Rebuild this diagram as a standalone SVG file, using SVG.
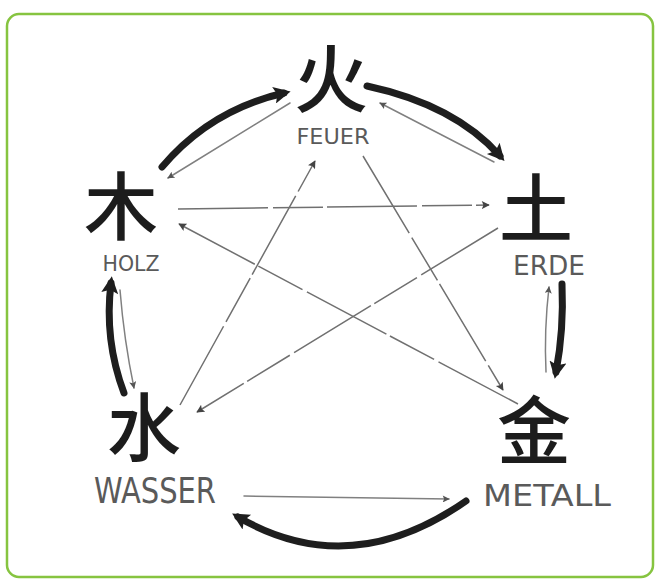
<svg xmlns="http://www.w3.org/2000/svg" width="656" height="580" viewBox="0 0 656 580">
<defs>
<style>
.han{font-family:"Noto Sans CJK SC","Noto Sans CJK JP",sans-serif;font-size:74px;font-weight:500;fill:#1c1c1c;text-anchor:middle}
.lbl{font-family:"Liberation Sans Narrow","DejaVu Sans Condensed","Liberation Sans",sans-serif;fill:#5a5a5a;text-anchor:middle}
.thick{fill:none;stroke:#1e1e1e;stroke-width:7;stroke-linecap:round;marker-end:url(#hb)}
.thin{fill:none;stroke:#808080;stroke-width:1.5;stroke-linecap:round}
.star{fill:none;stroke:#707070;stroke-width:1.5;stroke-dasharray:90 5 50 4;marker-end:url(#hs)}
</style>
<marker id="hb" viewBox="0 0 10 10" refX="6" refY="5" markerWidth="20" markerHeight="17" markerUnits="userSpaceOnUse" orient="auto">
<path d="M0,0 L10,5 L0,10 L2,5 Z" fill="#1e1e1e"/>
</marker>
<marker id="hs" viewBox="0 0 10 10" refX="9" refY="5" markerWidth="11" markerHeight="8" markerUnits="userSpaceOnUse" orient="auto">
<path d="M0,0 L10,5 L0,10 L2,5 Z" fill="#444"/>
</marker>
<marker id="ht" viewBox="0 0 10 10" refX="9" refY="5" markerWidth="10" markerHeight="7" markerUnits="userSpaceOnUse" orient="auto">
<path d="M0,0 L10,5 L0,10 L2,5 Z" fill="#555"/>
</marker>
</defs>
<rect x="0" y="0" width="656" height="580" fill="#fff"/>
<rect x="7" y="14" width="646" height="563" rx="12" ry="12" fill="#fff" stroke="#86c440" stroke-width="2.5"/>

<g id="connectors">
<!-- generating cycle (thick) -->
<path class="thick" d="M162,167 Q210,110 284,93"/>
<path class="thick" d="M367,86 Q455,105 500,156"/>
<path class="thick" d="M562,284 Q564,330 556,372"/>
<path class="thick" d="M466,501 Q350,582 238,517"/>
<path class="thick" d="M124,393 Q104,340 111,283"/>
<!-- reverse thin arrows -->
<path class="thin" d="M290,103 L168,178" marker-end="url(#ht)"/>
<path class="thin" d="M494,162 L380,103" marker-end="url(#ht)"/>
<path class="thin" d="M546,372 Q544,330 549,287" marker-end="url(#ht)"/>
<path class="thin" d="M244,496 L449,499" marker-end="url(#ht)"/>
<path class="thin" d="M120,290 Q124,340 134,388" marker-end="url(#ht)"/>
<!-- controlling star -->
<path class="star" d="M178,209 L489,205"/>
<path class="star" d="M498,228 L197,412"/>
<path class="star" d="M180,405 L315,161"/>
<path class="star" d="M363,156 L503,390"/>
<path class="star" d="M518,404 L179,224"/>
</g>

<g id="fire">
<text class="han" x="331" y="107" font-size="72">火</text>
<text class="lbl" x="333" y="144" font-size="21" textLength="73" lengthAdjust="spacingAndGlyphs">FEUER</text>
</g>
<g id="wood">
<text class="han" x="121" y="234">木</text>
<text class="lbl" x="131" y="271" font-size="21" textLength="57" lengthAdjust="spacingAndGlyphs">HOLZ</text>
</g>
<g id="earth">
<text class="han" x="536" y="236">土</text>
<text class="lbl" x="549" y="275" font-size="27" textLength="72" lengthAdjust="spacingAndGlyphs">ERDE</text>
</g>
<g id="water">
<text class="han" x="144" y="455" font-size="76">水</text>
<text class="lbl" x="155" y="503" font-size="35" textLength="122" lengthAdjust="spacingAndGlyphs">WASSER</text>
</g>
<g id="metal">
<text class="han" x="534" y="458">金</text>
<text class="lbl" x="547" y="506" font-size="30" textLength="128" lengthAdjust="spacingAndGlyphs">METALL</text>
</g>
</svg>
